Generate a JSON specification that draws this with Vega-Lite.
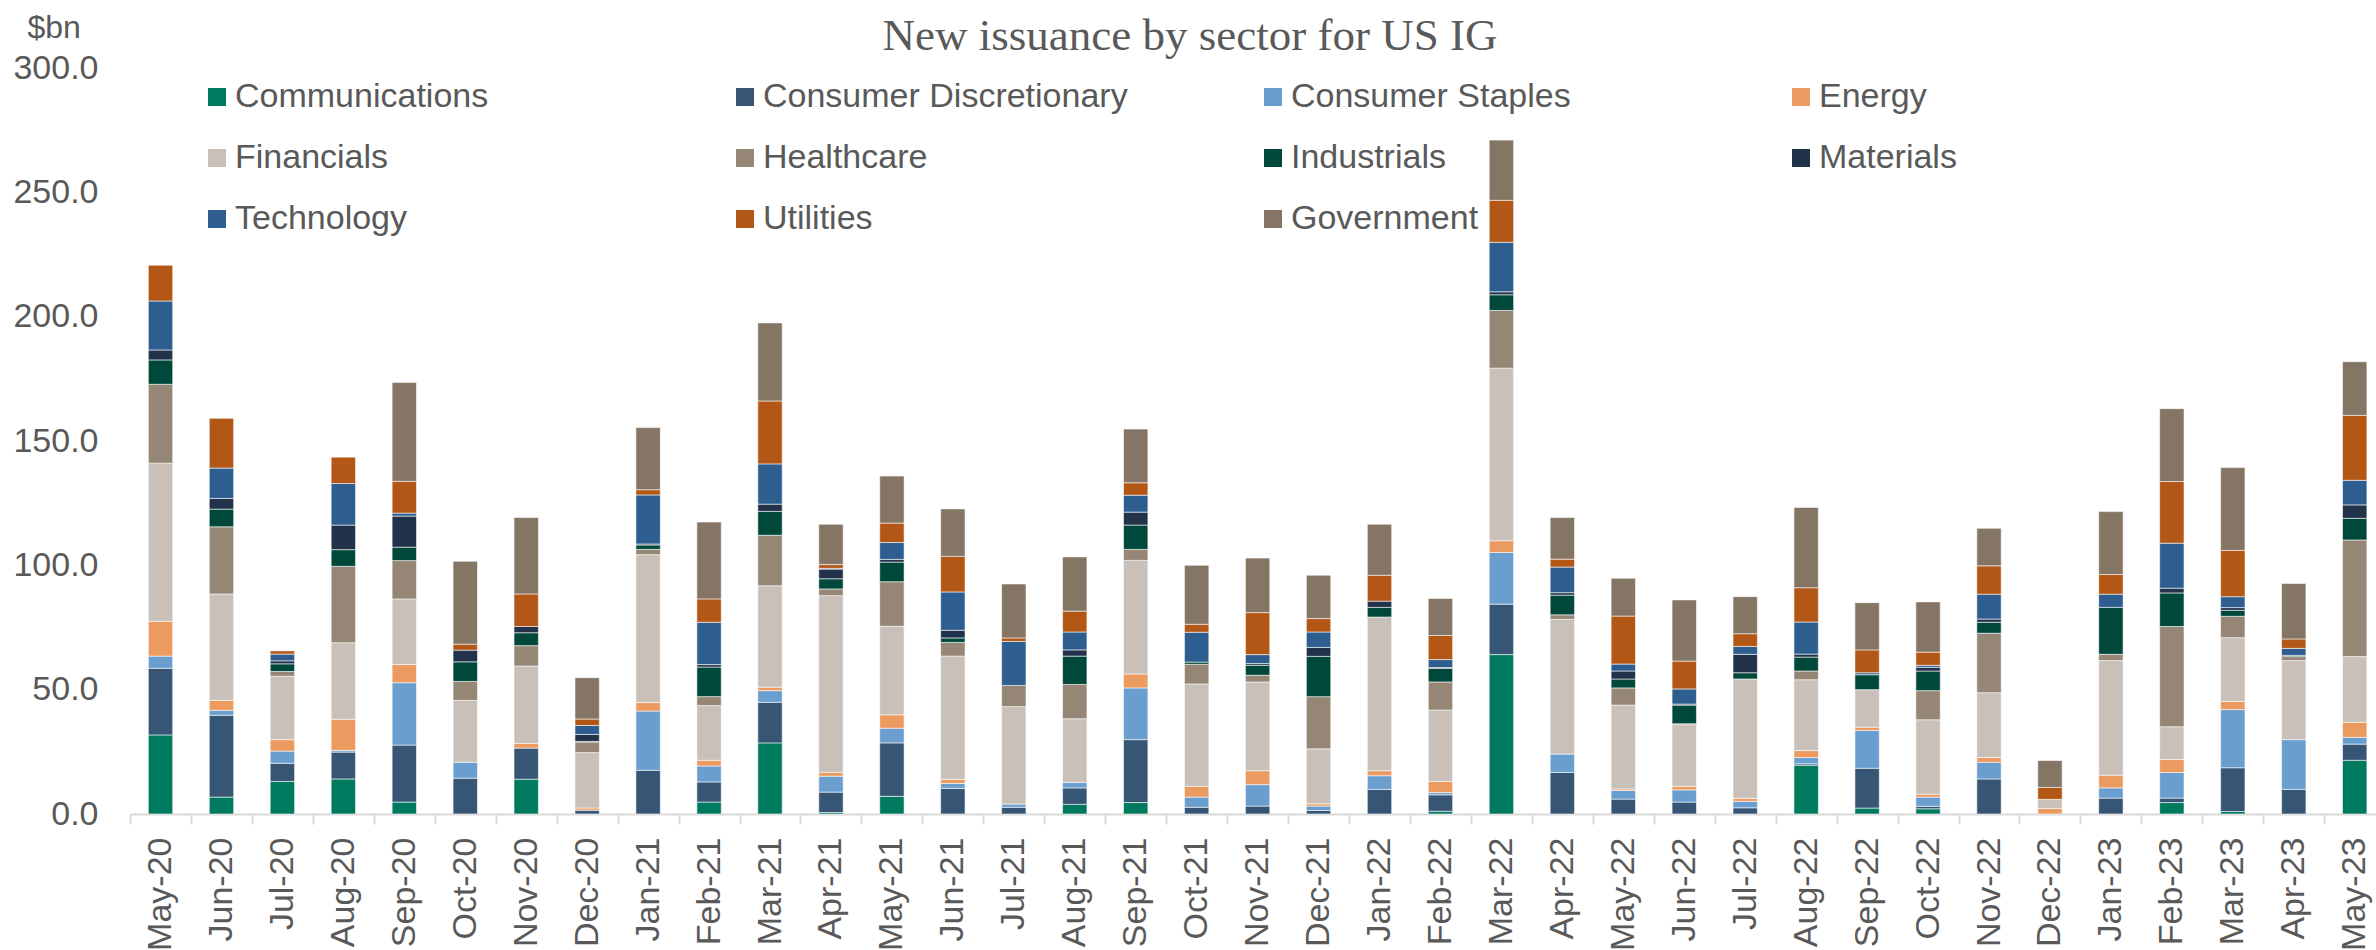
{
  "$schema": "https://vega.github.io/schema/vega-lite/v6.json",
  "autosize": {"type": "none"},
  "padding": {"left": 130, "top": 68, "right": 0, "bottom": 136},
  "width": 2246,
  "height": 746,
  "background": "white",
  "config": {"view": {"stroke": null}},
  "title": {
    "text": "New issuance by sector for US IG",
    "font": "Liberation Serif",
    "fontSize": 45,
    "fontWeight": "normal",
    "color": "#595959",
    "anchor": "middle",
    "frame": "group",
    "dx": -63,
    "offset": -48
  },
  "datasets": {
    "sectors": [
      {"sector": "Communications", "rank": 1},
      {"sector": "Consumer Discretionary", "rank": 2},
      {"sector": "Consumer Staples", "rank": 3},
      {"sector": "Energy", "rank": 4},
      {"sector": "Financials", "rank": 5},
      {"sector": "Healthcare", "rank": 6},
      {"sector": "Industrials", "rank": 7},
      {"sector": "Materials", "rank": 8},
      {"sector": "Technology", "rank": 9},
      {"sector": "Utilities", "rank": 10},
      {"sector": "Government", "rank": 11}
    ]
  },
  "data": {
    "values": [
      {"month": "May-20", "Communications": 31.8, "Consumer Discretionary": 26.8, "Consumer Staples": 4.9, "Energy": 14.0, "Financials": 63.6, "Healthcare": 31.7, "Industrials": 9.8, "Materials": 4.0, "Technology": 19.7, "Utilities": 14.4, "Government": 0},
      {"month": "Jun-20", "Communications": 6.8, "Consumer Discretionary": 32.9, "Consumer Staples": 2.0, "Energy": 4.0, "Financials": 42.8, "Healthcare": 27.0, "Industrials": 7.1, "Materials": 4.3, "Technology": 12.2, "Utilities": 20.0, "Government": 0},
      {"month": "Jul-20", "Communications": 13.1, "Consumer Discretionary": 7.3, "Consumer Staples": 4.9, "Energy": 4.6, "Financials": 25.5, "Healthcare": 1.9, "Industrials": 3.1, "Materials": 1.2, "Technology": 2.7, "Utilities": 1.3, "Government": 0},
      {"month": "Aug-20", "Communications": 14.1, "Consumer Discretionary": 10.8, "Consumer Staples": 0.7, "Energy": 12.5, "Financials": 30.8, "Healthcare": 30.7, "Industrials": 6.7, "Materials": 9.9, "Technology": 16.7, "Utilities": 10.6, "Government": 0},
      {"month": "Sep-20", "Communications": 4.8, "Consumer Discretionary": 22.9, "Consumer Staples": 25.1, "Energy": 7.3, "Financials": 26.4, "Healthcare": 15.4, "Industrials": 5.4, "Materials": 12.5, "Technology": 1.2, "Utilities": 12.8, "Government": 39.7},
      {"month": "Oct-20", "Communications": 0, "Consumer Discretionary": 14.4, "Consumer Staples": 6.4, "Energy": 0, "Financials": 24.9, "Healthcare": 7.6, "Industrials": 7.9, "Materials": 4.7, "Technology": 0, "Utilities": 2.4, "Government": 33.3},
      {"month": "Nov-20", "Communications": 14.0, "Consumer Discretionary": 12.5, "Consumer Staples": 0, "Energy": 1.9, "Financials": 31.1, "Healthcare": 8.2, "Industrials": 5.2, "Materials": 2.5, "Technology": 0, "Utilities": 13.1, "Government": 30.7},
      {"month": "Dec-20", "Communications": 0, "Consumer Discretionary": 1.5, "Consumer Staples": 0, "Energy": 0.9, "Financials": 22.3, "Healthcare": 4.2, "Industrials": 0.3, "Materials": 2.8, "Technology": 3.6, "Utilities": 2.6, "Government": 16.6},
      {"month": "Jan-21", "Communications": 0, "Consumer Discretionary": 17.6, "Consumer Staples": 23.8, "Energy": 3.4, "Financials": 59.5, "Healthcare": 2.1, "Industrials": 1.8, "Materials": 0.4, "Technology": 19.7, "Utilities": 2.1, "Government": 25.0},
      {"month": "Feb-21", "Communications": 4.8, "Consumer Discretionary": 8.1, "Consumer Staples": 6.4, "Energy": 2.3, "Financials": 22.0, "Healthcare": 3.6, "Industrials": 11.9, "Materials": 1.0, "Technology": 17.0, "Utilities": 9.4, "Government": 30.9},
      {"month": "Mar-21", "Communications": 28.6, "Consumer Discretionary": 16.3, "Consumer Staples": 4.7, "Energy": 1.4, "Financials": 40.8, "Healthcare": 20.3, "Industrials": 9.6, "Materials": 2.9, "Technology": 16.2, "Utilities": 25.3, "Government": 31.4},
      {"month": "Apr-21", "Communications": 0.6, "Consumer Discretionary": 8.2, "Consumer Staples": 6.4, "Energy": 1.6, "Financials": 71.0, "Healthcare": 2.7, "Industrials": 4.1, "Materials": 3.9, "Technology": 0.3, "Utilities": 1.5, "Government": 16.2},
      {"month": "May-21", "Communications": 7.1, "Consumer Discretionary": 21.5, "Consumer Staples": 5.9, "Energy": 5.4, "Financials": 35.6, "Healthcare": 17.9, "Industrials": 7.9, "Materials": 1.1, "Technology": 6.8, "Utilities": 7.8, "Government": 18.9},
      {"month": "Jun-21", "Communications": 0, "Consumer Discretionary": 10.3, "Consumer Staples": 2.0, "Energy": 1.6, "Financials": 49.6, "Healthcare": 5.5, "Industrials": 1.8, "Materials": 3.1, "Technology": 15.4, "Utilities": 14.3, "Government": 19.1},
      {"month": "Jul-21", "Communications": 0, "Consumer Discretionary": 2.7, "Consumer Staples": 1.3, "Energy": 0, "Financials": 39.2, "Healthcare": 8.5, "Industrials": 0, "Materials": 0, "Technology": 17.7, "Utilities": 1.4, "Government": 21.7},
      {"month": "Aug-21", "Communications": 3.9, "Consumer Discretionary": 6.6, "Consumer Staples": 2.2, "Energy": 0, "Financials": 25.6, "Healthcare": 13.8, "Industrials": 11.4, "Materials": 2.5, "Technology": 7.2, "Utilities": 8.4, "Government": 21.8},
      {"month": "Sep-21", "Communications": 4.6, "Consumer Discretionary": 25.3, "Consumer Staples": 20.8, "Energy": 5.6, "Financials": 45.7, "Healthcare": 4.4, "Industrials": 9.8, "Materials": 5.2, "Technology": 6.8, "Utilities": 5.0, "Government": 21.6},
      {"month": "Oct-21", "Communications": 0, "Consumer Discretionary": 2.7, "Consumer Staples": 4.1, "Energy": 4.3, "Financials": 41.2, "Healthcare": 7.9, "Industrials": 0.9, "Materials": 0, "Technology": 12.0, "Utilities": 3.2, "Government": 23.7},
      {"month": "Nov-21", "Communications": 0, "Consumer Discretionary": 3.2, "Consumer Staples": 8.6, "Energy": 5.6, "Financials": 35.7, "Healthcare": 2.7, "Industrials": 4.0, "Materials": 0.7, "Technology": 3.6, "Utilities": 16.9, "Government": 21.9},
      {"month": "Dec-21", "Communications": 0, "Consumer Discretionary": 1.4, "Consumer Staples": 1.8, "Energy": 0.9, "Financials": 22.1, "Healthcare": 21.0, "Industrials": 16.2, "Materials": 3.6, "Technology": 6.2, "Utilities": 5.4, "Government": 17.4},
      {"month": "Jan-22", "Communications": 0, "Consumer Discretionary": 9.9, "Consumer Staples": 5.5, "Energy": 2.0, "Financials": 61.8, "Healthcare": 0, "Industrials": 3.9, "Materials": 2.5, "Technology": 0, "Utilities": 10.4, "Government": 20.5},
      {"month": "Feb-22", "Communications": 1.1, "Consumer Discretionary": 6.6, "Consumer Staples": 0.9, "Energy": 4.5, "Financials": 28.7, "Healthcare": 11.3, "Industrials": 5.4, "Materials": 0.4, "Technology": 3.2, "Utilities": 9.7, "Government": 14.9},
      {"month": "Mar-22", "Communications": 64.1, "Consumer Discretionary": 20.3, "Consumer Staples": 20.8, "Energy": 4.7, "Financials": 69.4, "Healthcare": 23.2, "Industrials": 6.3, "Materials": 1.2, "Technology": 19.9, "Utilities": 16.9, "Government": 24.2},
      {"month": "Apr-22", "Communications": 0, "Consumer Discretionary": 16.7, "Consumer Staples": 7.4, "Energy": 0, "Financials": 54.2, "Healthcare": 1.8, "Industrials": 7.9, "Materials": 1.0, "Technology": 10.3, "Utilities": 3.2, "Government": 16.7},
      {"month": "May-22", "Communications": 0, "Consumer Discretionary": 6.0, "Consumer Staples": 3.5, "Energy": 0.6, "Financials": 33.7, "Healthcare": 6.9, "Industrials": 3.6, "Materials": 3.2, "Technology": 2.8, "Utilities": 19.3, "Government": 15.2},
      {"month": "Jun-22", "Communications": 0, "Consumer Discretionary": 4.8, "Consumer Staples": 4.9, "Energy": 1.4, "Financials": 24.8, "Healthcare": 0.4, "Industrials": 7.5, "Materials": 0.4, "Technology": 6.1, "Utilities": 11.2, "Government": 24.6},
      {"month": "Jul-22", "Communications": 0, "Consumer Discretionary": 2.5, "Consumer Staples": 2.6, "Energy": 1.2, "Financials": 48.0, "Healthcare": 0, "Industrials": 2.5, "Materials": 7.4, "Technology": 3.2, "Utilities": 5.1, "Government": 14.9},
      {"month": "Aug-22", "Communications": 19.6, "Consumer Discretionary": 0.6, "Consumer Staples": 2.5, "Energy": 2.8, "Financials": 28.5, "Healthcare": 3.5, "Industrials": 5.6, "Materials": 1.2, "Technology": 12.9, "Utilities": 13.8, "Government": 32.3},
      {"month": "Sep-22", "Communications": 2.4, "Consumer Discretionary": 16.0, "Consumer Staples": 15.2, "Energy": 1.3, "Financials": 15.1, "Healthcare": 0, "Industrials": 6.0, "Materials": 0, "Technology": 0.8, "Utilities": 9.2, "Government": 19.0},
      {"month": "Oct-22", "Communications": 2.1, "Consumer Discretionary": 1.0, "Consumer Staples": 3.7, "Energy": 1.2, "Financials": 29.9, "Healthcare": 11.7, "Industrials": 7.9, "Materials": 1.5, "Technology": 0.8, "Utilities": 5.3, "Government": 20.2},
      {"month": "Nov-22", "Communications": 0, "Consumer Discretionary": 14.1, "Consumer Staples": 6.7, "Energy": 1.9, "Financials": 26.1, "Healthcare": 23.9, "Industrials": 4.4, "Materials": 1.3, "Technology": 10.0, "Utilities": 11.4, "Government": 15.1},
      {"month": "Dec-22", "Communications": 0, "Consumer Discretionary": 0, "Consumer Staples": 0, "Energy": 2.2, "Financials": 3.7, "Healthcare": 0, "Industrials": 0, "Materials": 0, "Technology": 0, "Utilities": 4.8, "Government": 10.8},
      {"month": "Jan-23", "Communications": 0, "Consumer Discretionary": 6.4, "Consumer Staples": 4.1, "Energy": 5.1, "Financials": 46.1, "Healthcare": 2.5, "Industrials": 18.9, "Materials": 0, "Technology": 5.3, "Utilities": 7.9, "Government": 25.3},
      {"month": "Feb-23", "Communications": 4.6, "Consumer Discretionary": 1.8, "Consumer Staples": 10.3, "Energy": 5.2, "Financials": 13.2, "Healthcare": 40.3, "Industrials": 13.5, "Materials": 1.9, "Technology": 18.1, "Utilities": 24.8, "Government": 29.3},
      {"month": "Mar-23", "Communications": 1.0, "Consumer Discretionary": 17.6, "Consumer Staples": 23.4, "Energy": 3.3, "Financials": 25.6, "Healthcare": 8.6, "Industrials": 2.4, "Materials": 1.1, "Technology": 4.4, "Utilities": 18.6, "Government": 33.3},
      {"month": "Apr-23", "Communications": 0, "Consumer Discretionary": 9.9, "Consumer Staples": 20.0, "Energy": 0, "Financials": 31.8, "Healthcare": 1.6, "Industrials": 0.5, "Materials": 0, "Technology": 2.8, "Utilities": 3.8, "Government": 22.3},
      {"month": "May-23", "Communications": 21.6, "Consumer Discretionary": 6.5, "Consumer Staples": 2.7, "Energy": 6.1, "Financials": 26.4, "Healthcare": 46.9, "Industrials": 8.7, "Materials": 5.4, "Technology": 9.9, "Utilities": 26.1, "Government": 21.6}
    ]
  },
  "transform": [
    {"fold": ["Communications", "Consumer Discretionary", "Consumer Staples", "Energy", "Financials", "Healthcare", "Industrials", "Materials", "Technology", "Utilities", "Government"], "as": ["sector", "value"]},
    {"filter": "datum.value > 0"},
    {"lookup": "sector", "from": {"data": {"name": "sectors"}, "key": "sector", "fields": ["rank"]}}
  ],
  "mark": {"type": "bar", "stroke": "#ffffff", "strokeWidth": 0.8, "strokeOpacity": 0.7},
  "encoding": {
    "x": {
      "field": "month",
      "type": "nominal",
      "sort": null,
      "scale": {"paddingInner": 0.6, "paddingOuter": 0.225, "align": 0.668},
      "axis": {
        "title": null,
        "labelAngle": -90,
        "labelAlign": "right",
        "labelBaseline": "middle",
        "labelFont": "Liberation Sans",
        "labelFontSize": 34,
        "labelColor": "#595959",
        "labelPadding": 13,
        "labelOffset": 30.5,
        "tickOffset": -30.5,
        "tickSize": 10,
        "tickColor": "#D9D9D9",
        "tickWidth": 2,
        "domainColor": "#D9D9D9",
        "domainWidth": 2,
        "grid": false
      }
    },
    "y": {
      "field": "value",
      "type": "quantitative",
      "stack": "zero",
      "scale": {"domain": [0, 300], "nice": false},
      "axis": {
        "values": [0, 50, 100, 150, 200, 250, 300],
        "format": ".1f",
        "grid": false,
        "domain": false,
        "ticks": false,
        "tickSize": 0,
        "labelPadding": 32,
        "labelFont": "Liberation Sans",
        "labelFontSize": 34,
        "labelColor": "#595959",
        "title": "$bn",
        "titleAngle": 0,
        "titleAlign": "left",
        "titleBaseline": "alphabetic",
        "titleX": -103,
        "titleY": -31,
        "titleFont": "Liberation Sans",
        "titleFontSize": 32,
        "titleFontWeight": "normal",
        "titleColor": "#595959"
      }
    },
    "order": {"field": "rank", "type": "quantitative", "sort": "ascending"},
    "color": {
      "field": "sector",
      "type": "nominal",
      "scale": {
        "domain": ["Communications", "Consumer Discretionary", "Consumer Staples", "Energy", "Financials", "Healthcare", "Industrials", "Materials", "Technology", "Utilities", "Government"],
        "range": ["#007A5E", "#375675", "#6A9ECF", "#EB9A60", "#C9C0B9", "#958676", "#00493A", "#22324A", "#2D5E8F", "#B25716", "#857564"]
      },
      "legend": {
        "title": null,
        "orient": "none",
        "legendX": 70,
        "legendY": 12,
        "direction": "horizontal",
        "columns": 4,
        "gridAlign": "all",
        "columnPadding": 128,
        "rowPadding": 27,
        "padding": 0,
        "symbolType": "square",
        "symbolSize": 324,
        "symbolStrokeWidth": 0,
        "labelFont": "Liberation Sans",
        "labelFontSize": 34,
        "labelColor": "#595959",
        "labelOffset": 1,
        "labelLimit": 600
      }
    }
  }
}
